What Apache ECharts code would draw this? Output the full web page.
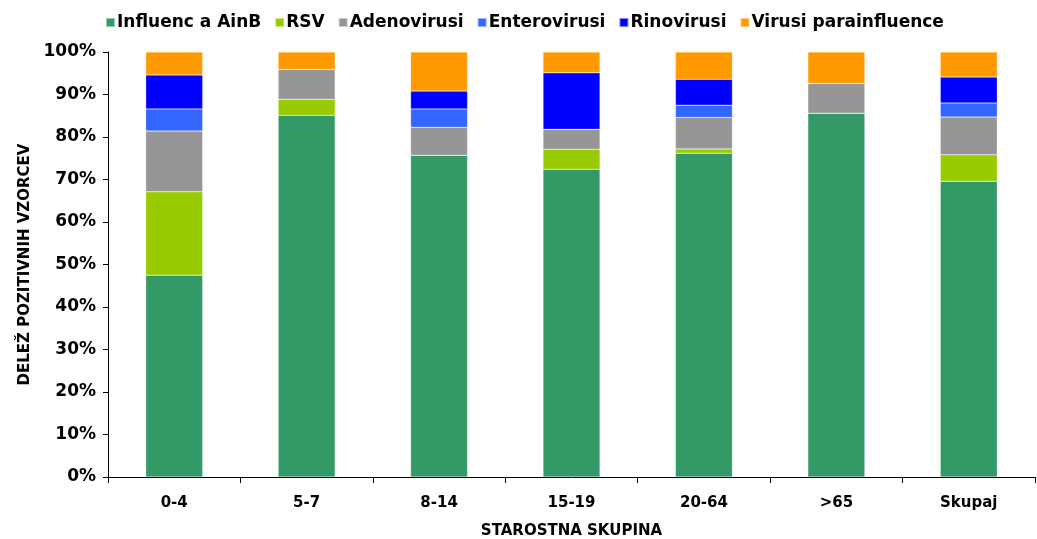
<!DOCTYPE html>
<html>
<head>
<meta charset="utf-8">
<script src="https://cdn.jsdelivr.net/npm/echarts@6/dist/echarts.min.js"></script>
<style>
  html, body { margin: 0; padding: 0; background: #fff; }
  #chart { width: 1037px; height: 539px; }
</style>
</head>
<body>
<div id="chart"></div>
<script>
// ---- 数据 ----
const groups = ['0-4', '5-7', '8-14', '15-19', '20-64', '>65', 'Skupaj']
const influenca = [47.5, 85.1, 75.7, 72.4, 76.2, 85.6, 69.6]
const rsv = [19.6, 3.8, 0, 4.7, 1.0, 0, 6.2]
const adeno = [14.3, 7.0, 6.6, 4.7, 7.4, 7.0, 8.9]
const entero = [5.2, 0, 4.3, 0, 2.9, 0, 3.3]
const rino = [8.0, 0, 4.2, 13.3, 6.1, 0, 6.1]
const parainfl = [5.4, 4.1, 9.2, 4.9, 6.4, 7.4, 5.9]
const yTicks = { min: 0, max: 100, interval: 10 }

const font = 'DejaVu Sans'
const chart = echarts.init(document.getElementById('chart'))

function bar(name, data, color) {
  return {
    name,
    type: 'bar',
    stack: 'total',
    barWidth: 57,
    data,
    itemStyle: { color, borderColor: 'rgba(255,255,255,0.5)', borderWidth: 0.5 }
  }
}

chart.setOption({
  animation: false,
  textStyle: { fontFamily: font },
  legend: {
    top: 9,
    left: 100,
    itemWidth: 9,
    itemHeight: 9,
    itemGap: 13,
    icon: 'rect',
    textStyle: { fontFamily: font, fontWeight: 'bold', fontSize: 17, color: '#000', padding: [0, 0, 0, -3] }
  },
  grid: { left: 108, right: 2, top: 52, bottom: 62, outerBoundsMode: 'none' },
  xAxis: {
    type: 'category',
    data: groups,
    name: 'STAROSTNA SKUPINA',
    nameLocation: 'middle',
    nameGap: 47,
    nameTextStyle: { fontFamily: font, fontWeight: 'bold', fontSize: 15, color: '#000' },
    axisLine: { lineStyle: { color: '#000', width: 1 } },
    axisTick: { show: true, length: 6, lineStyle: { color: '#000' } },
    axisLabel: { color: '#000', fontWeight: 'bold', fontSize: 15, margin: 19 }
  },
  yAxis: {
    type: 'value',
    min: yTicks.min,
    max: yTicks.max,
    interval: yTicks.interval,
    name: 'DELEŽ POZITIVNIH VZORCEV',
    nameLocation: 'middle',
    nameGap: 69,
    nameRotate: 90,
    nameTextStyle: { fontFamily: font, fontWeight: 'bold', fontSize: 15, color: '#000' },
    axisLine: { show: true, lineStyle: { color: '#000', width: 1 } },
    axisTick: { show: true, length: 5, lineStyle: { color: '#000' } },
    splitLine: { show: false },
    axisLabel: { color: '#000', fontWeight: 'bold', fontSize: 17, margin: 12, formatter: '{value}%' }
  },
  series: [
    bar('Influenc a AinB', influenca, '#339966'),
    bar('RSV', rsv, '#99CC00'),
    bar('Adenovirusi', adeno, '#969696'),
    bar('Enterovirusi', entero, '#3366FF'),
    bar('Rinovirusi', rino, '#0000FF'),
    bar('Virusi parainfluence', parainfl, '#FF9900')
  ]
})
</script>
</body>
</html>
